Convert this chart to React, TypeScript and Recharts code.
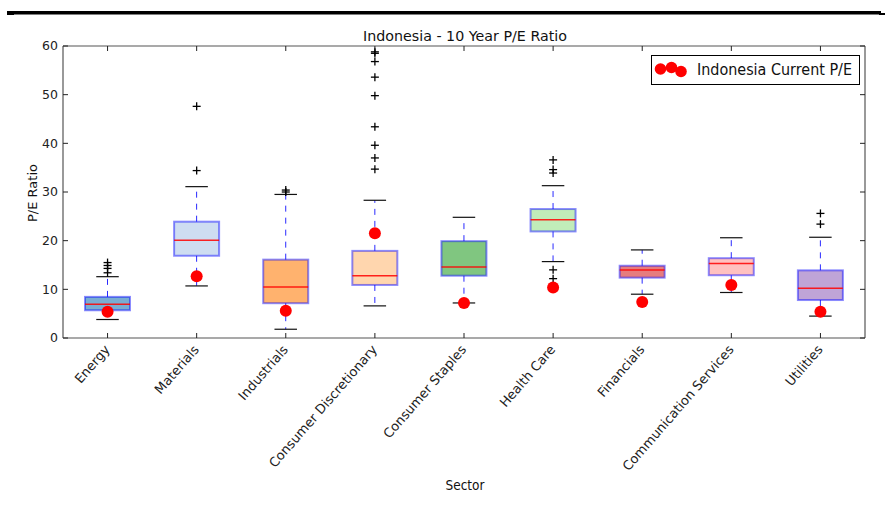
import { ComposedChart, Bar, Scatter, XAxis, YAxis, Legend } from "recharts";

const sectors = [
  "Energy",
  "Materials",
  "Industrials",
  "Consumer Discretionary",
  "Consumer Staples",
  "Health Care",
  "Financials",
  "Communication Services",
  "Utilities",
];

// box plot stats
const whiskerLow = [3.8, 10.7, 1.8, 6.6, 7.2, 15.7, 9.0, 9.35, 4.5];
const q1 = [5.7, 16.9, 7.15, 10.9, 12.8, 21.9, 12.4, 12.9, 7.8];
const median = [6.95, 20.1, 10.5, 12.8, 14.6, 24.3, 13.95, 15.3, 10.2];
const q3 = [8.45, 23.9, 16.1, 17.9, 19.9, 26.5, 14.85, 16.4, 13.9];
const whiskerHigh = [12.6, 31.1, 29.5, 28.3, 24.8, 31.3, 18.1, 20.6, 20.7];
const outliers = [
  [13.4, 14.3, 14.9, 15.5],
  [34.4, 47.6],
  [30.0, 30.4],
  [34.7, 37.0, 39.6, 43.4, 49.8, 53.6, 56.8, 58.5, 58.8],
  [],
  [12.2, 14.0, 33.9, 34.6, 36.6],
  [],
  [],
  [23.4, 25.6],
];
const currentPE = [5.4, 12.7, 5.6, 21.5, 7.2, 10.4, 7.4, 10.9, 5.4];

const yTicks = [0, 10, 20, 30, 40, 50, 60];
const boxColors = [
  "#1f77b4", "#aec7e8", "#ff7f0e", "#ffbb78", "#2ca02c",
  "#98df8a", "#d62728", "#ff9896", "#9467bd",
];

const rows = sectors.map((sector, i) => ({
  sector,
  lo: whiskerLow[i],
  q1: q1[i],
  med: median[i],
  q3: q3[i],
  hi: whiskerHigh[i],
  box: [q1[i], q3[i]],
  current: currentPE[i],
  color: boxColors[i],
}));

const outlierPoints = sectors.flatMap((sector, i) =>
  outliers[i].map((value) => ({ sector, value }))
);

const FONT = "'DejaVu Sans', sans-serif";
const FRAME = "#555";

function BoxShape(props: any) {
  const { x, y, width, height, payload } = props;
  const h = Math.abs(height);
  const top = height < 0 ? y + height : y;
  const ppu = h / (payload.q3 - payload.q1);
  const py = (v: number) => top + (payload.q3 - v) * ppu;
  const cx = x + width / 2;
  const cap = width / 4;
  return (
    <g>
      <line x1={cx} x2={cx} y1={top} y2={py(payload.hi)} stroke="#2a2aff" strokeDasharray="6 6" />
      <line x1={cx} x2={cx} y1={top + h} y2={py(payload.lo)} stroke="#2a2aff" strokeDasharray="6 6" />
      <line x1={cx - cap} x2={cx + cap} y1={py(payload.hi)} y2={py(payload.hi)} stroke="#111" strokeWidth={1.2} />
      <line x1={cx - cap} x2={cx + cap} y1={py(payload.lo)} y2={py(payload.lo)} stroke="#111" strokeWidth={1.2} />
      <rect x={x} y={top} width={width} height={h} fill={payload.color} fillOpacity={0.6} stroke="#0000ff" strokeOpacity={0.45} strokeWidth={2} />
      <line x1={x} x2={x + width} y1={py(payload.med)} y2={py(payload.med)} stroke="#ff0000" strokeOpacity={0.85} strokeWidth={1.5} />
    </g>
  );
}

function PlusShape({ cx, cy }: any) {
  return (
    <g stroke="#000" strokeWidth={1.3}>
      <line x1={cx - 4} x2={cx + 4} y1={cy} y2={cy} />
      <line x1={cx} x2={cx} y1={cy - 4} y2={cy + 4} />
    </g>
  );
}

function DotShape({ cx, cy }: any) {
  return <circle cx={cx} cy={cy} r={6} fill="#ff0000" />;
}

function BottomTick({ x, y, payload }: any) {
  const ax = x + 3;
  const ay = y + 12;
  return (
    <g>
      <line x1={x} x2={x} y1={y} y2={y - 5} stroke="#222" />
      <text x={ax} y={ay} textAnchor="end" fontSize={13} fontFamily={FONT} fill="#222" transform={`rotate(-49 ${ax} ${ay})`}>
        {payload.value}
      </text>
    </g>
  );
}

function TopTick({ x, y }: any) {
  return <line x1={x} x2={x} y1={y} y2={y + 5} stroke="#222" />;
}

function LeftTick({ x, y, payload }: any) {
  return (
    <g>
      <line x1={x} x2={x + 5} y1={y} y2={y} stroke="#222" />
      <text x={x - 5} y={y} dy="0.35em" textAnchor="end" fontSize={12.5} fontFamily={FONT} fill="#222">
        {payload.value}
      </text>
    </g>
  );
}

function RightTick({ x, y }: any) {
  return <line x1={x} x2={x - 5} y1={y} y2={y} stroke="#222" />;
}

function LegendBox() {
  return (
    <svg width={230} height={30} style={{ display: "block", overflow: "visible" }}>
      <rect x={0.5} y={0.5} width={208} height={29} fill="#fff" stroke="#000" />
      <circle cx={9.5} cy={14} r={5.8} fill="#ff0000" />
      <circle cx={20.5} cy={12.5} r={5.8} fill="#ff0000" />
      <circle cx={30} cy={16.5} r={5.8} fill="#ff0000" />
      <text x={46} y={20} fontSize={16} fontFamily={FONT} fill="#111" textLength={155} lengthAdjust="spacingAndGlyphs">
        Indonesia Current P/E
      </text>
    </svg>
  );
}

export default function App() {
  return (
    <div style={{ position: "absolute", left: 0, top: 0, width: 886, height: 513, background: "#fff", fontFamily: FONT }}>
      <ComposedChart
        width={886}
        height={513}
        data={rows}
        margin={{ top: 45, right: 20, bottom: 25, left: 23 }}
      >
        <XAxis
          dataKey="sector"
          type="category"
          allowDuplicatedCategory={false}
          height={150}
          tickSize={0}
          tickMargin={0}
          tickLine={false}
          interval={0}
          axisLine={{ stroke: FRAME, strokeWidth: 1.2 }}
          tick={<BottomTick />}
        />
        <XAxis
          xAxisId="top"
          orientation="top"
          dataKey="sector"
          type="category"
          allowDuplicatedCategory={false}
          height={1}
          tickSize={0}
          tickMargin={0}
          tickLine={false}
          interval={0}
          axisLine={{ stroke: FRAME, strokeWidth: 1.2 }}
          tick={<TopTick />}
        />
        <YAxis
          type="number"
          domain={[0, 60]}
          ticks={yTicks}
          allowDataOverflow
          width={40}
          tickSize={0}
          tickMargin={0}
          tickLine={false}
          axisLine={{ stroke: FRAME, strokeWidth: 1.2 }}
          tick={<LeftTick />}
        />
        <YAxis
          yAxisId="right"
          orientation="right"
          type="number"
          domain={[0, 60]}
          ticks={yTicks}
          allowDataOverflow
          width={1}
          tickSize={0}
          tickMargin={0}
          tickLine={false}
          axisLine={{ stroke: FRAME, strokeWidth: 1.2 }}
          tick={<RightTick />}
        />
        <Bar dataKey="box" barSize={45} shape={<BoxShape />} isAnimationActive={false} />
        <Scatter data={outlierPoints} dataKey="value" shape={<PlusShape />} isAnimationActive={false} />
        <Scatter
          xAxisId="top"
          yAxisId="right"
          dataKey="current"
          name="Indonesia Current P/E"
          shape={<DotShape />}
          isAnimationActive={false}
        />
        <Legend
          layout="vertical"
          align="center"
          verticalAlign="middle"
          content={() => <LegendBox />}
          wrapperStyle={{ position: "absolute", left: 651, top: 55, width: 230, height: 30 }}
        />
      </ComposedChart>
      <svg width={886} height={513} style={{ position: "absolute", left: 0, top: 0, pointerEvents: "none" }}>
        <rect x={7} y={11} width={874} height={3.5} fill="#000" />
        <rect x={7} y={13} width={7} height={2} fill="#000" />
        <rect x={879} y={13} width={6} height={2} fill="#000" />
        <text x={465} y={40.5} textAnchor="middle" fontSize={14.5} fontFamily={FONT} fill="#111" textLength={204} lengthAdjust="spacingAndGlyphs">
          Indonesia - 10 Year P/E Ratio
        </text>
        <text x={37} y={193} textAnchor="middle" fontSize={13} fontFamily={FONT} fill="#111" transform="rotate(-90 37 193)">
          P/E Ratio
        </text>
        <text x={465} y={490} textAnchor="middle" fontSize={13.5} fontFamily={FONT} fill="#111" textLength={39} lengthAdjust="spacingAndGlyphs">
          Sector
        </text>
      </svg>
    </div>
  );
}
